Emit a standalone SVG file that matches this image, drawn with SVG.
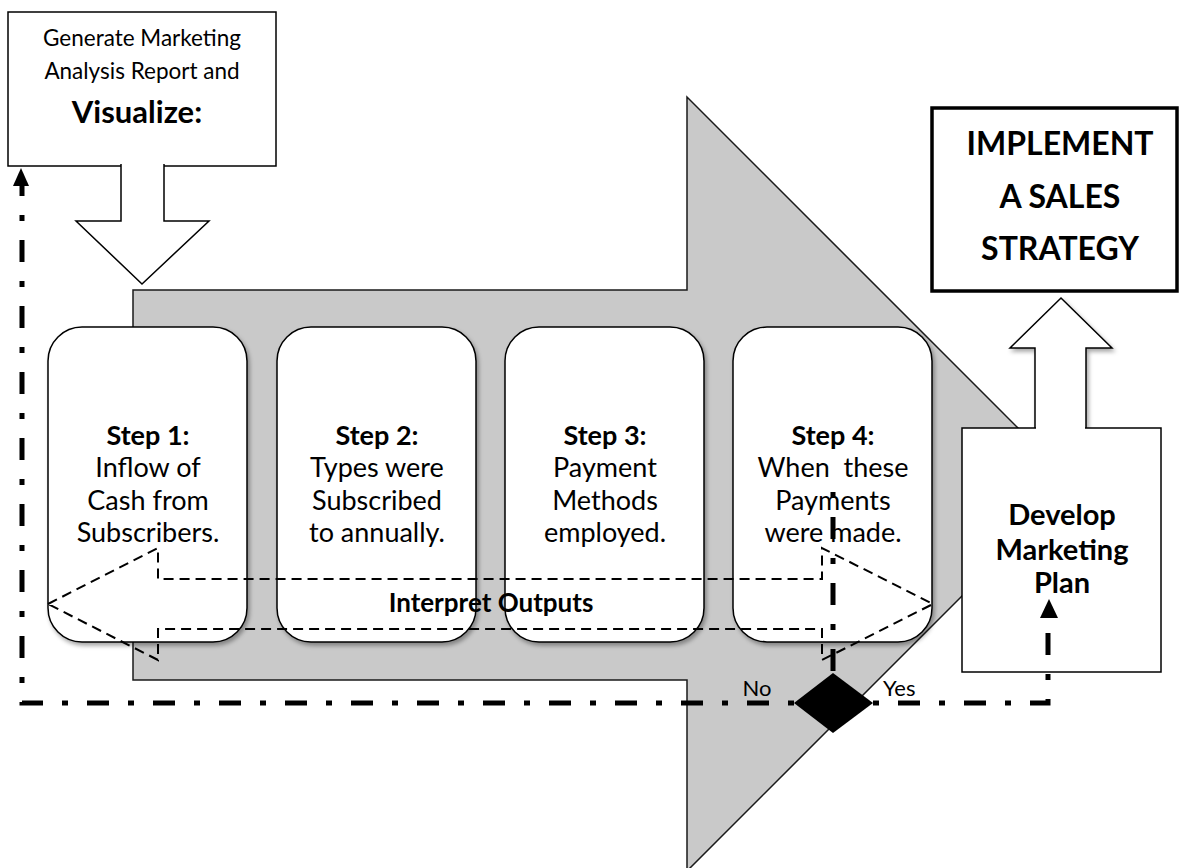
<svg xmlns="http://www.w3.org/2000/svg" width="1190" height="868" viewBox="0 0 1190 868">
  <defs>
    <filter id="shadow" x="-10%" y="-10%" width="130%" height="130%">
      <feDropShadow dx="2" dy="3" stdDeviation="2" flood-color="#000" flood-opacity="0.35"/>
    </filter>
    <style>
      .txt { font-family: Lato, "Liberation Sans", sans-serif; fill: #000; text-anchor: middle; }
      .b { font-weight: bold; }
      .box { fill: #fff; stroke: #000; stroke-width: 1.5; }
      .step { fill: #fff; stroke: #000; stroke-width: 1.5; filter: url(#shadow); }
      .flow { fill: none; stroke: #000; stroke-width: 5; stroke-dasharray: 6 19 22 19; }
      .dash { fill: none; stroke: #000; stroke-width: 2; stroke-dasharray: 10 6; }
    </style>
  </defs>

  <!-- large process arrow -->
  <g id="process-arrow">
    <polygon points="133,290 687,290 687,97 1074,484 687,871 687,680 133,680" fill="#c9c9c9" stroke="#1a1a1a" stroke-width="1.5"/>
  </g>

  <!-- step cards -->
  <g id="step1">
    <rect class="step" x="48" y="327" width="199" height="315" rx="34" ry="34"/>
    <text class="txt" font-size="27"><tspan class="b" x="148" y="445">Step 1:</tspan><tspan x="148" y="477">Inflow of</tspan><tspan x="148" y="510">Cash from</tspan><tspan x="148" y="542">Subscribers.</tspan></text>
  </g>
  <g id="step2">
    <rect class="step" x="277" y="327" width="199" height="315" rx="34" ry="34"/>
    <text class="txt" font-size="27"><tspan class="b" x="377" y="445">Step 2:</tspan><tspan x="377" y="477">Types were</tspan><tspan x="377" y="510">Subscribed</tspan><tspan x="377" y="542">to annually.</tspan></text>
  </g>
  <g id="step3">
    <rect class="step" x="505" y="327" width="199" height="315" rx="34" ry="34"/>
    <text class="txt" font-size="27"><tspan class="b" x="605" y="445">Step 3:</tspan><tspan x="605" y="477">Payment</tspan><tspan x="605" y="510">Methods</tspan><tspan x="605" y="542">employed.</tspan></text>
  </g>
  <g id="step4">
    <rect class="step" x="733" y="327" width="199" height="315" rx="34" ry="34"/>
    <text class="txt" font-size="27" style="white-space:pre"><tspan class="b" x="833" y="445">Step 4:</tspan><tspan x="833" y="477">When  these</tspan><tspan x="833" y="510">Payments</tspan><tspan x="833" y="542">were made.</tspan></text>
  </g>

  <!-- dashed double arrow across the steps -->
  <g id="interpret">
    <polygon class="dash" points="48,604 158,548 158,579 822,579 822,548 933,604 822,660 822,629 158,629 158,660"/>
    <text class="txt b" x="491" y="612" font-size="26">Interpret Outputs</text>
  </g>

  <!-- report box with down arrow -->
  <g id="report">
    <rect class="box" x="8" y="12" width="268" height="154"/>
    <path d="M121,164 L121,221 L76,221 L142,284 L209,221 L164,221 L164,164" fill="#fff" stroke="#000" stroke-width="1.5"/>
    <text class="txt" font-size="22.5"><tspan x="142" y="46">Generate Marketing</tspan><tspan x="142" y="79">Analysis Report and</tspan></text>
    <text class="txt b" x="137" y="123" font-size="31">Visualize:</text>
  </g>

  <!-- strategy box -->
  <g id="strategy">
    <rect x="932" y="108" width="245" height="183" fill="#fff" stroke="#000" stroke-width="3.5"/>
    <text class="txt b" font-size="32"><tspan x="1060" y="155">IMPLEMENT</tspan><tspan x="1060" y="208">A SALES</tspan><tspan x="1060" y="260">STRATEGY</tspan></text>
  </g>

  <!-- marketing plan box with up arrow -->
  <g id="plan">
    <path d="M1035,430 L1035,348 L1010,348 L1061,298 L1112,348 L1086,348 L1086,430" fill="#fff" stroke="#000" stroke-width="1.5" filter="url(#shadow)"/>
    <rect class="box" x="962" y="428" width="199" height="244"/>
    <rect x="1036" y="420" width="49" height="9.5" fill="#fff"/>
    <text class="txt b" font-size="29"><tspan x="1062" y="525">Develop</tspan><tspan x="1062" y="560">Marketing</tspan><tspan x="1062" y="593">Plan</tspan></text>
  </g>

  <!-- decision flow -->
  <g id="connectors">
    <path class="flow" d="M833,492 L833,672" stroke-dasharray="22 19 6 19"/>
    <path class="flow" d="M794,703 L22,703 L22,185"/>
    <polygon points="21,168 29,186 13,186" fill="#000"/>
    <path class="flow" d="M873,703 L1048,703 L1048,615" stroke-dasharray="0 3 7 17 22 20"/>
    <polygon points="1049,599 1058,618 1040,618" fill="#000"/>
  </g>

  <g id="decision">
    <polygon points="833,673 873,703 833,733 794,703" fill="#000"/>
    <text class="txt" x="757" y="696" font-size="22">No</text>
    <text class="txt" x="883" y="696" font-size="22" style="text-anchor:start">Yes</text>
  </g>
</svg>
